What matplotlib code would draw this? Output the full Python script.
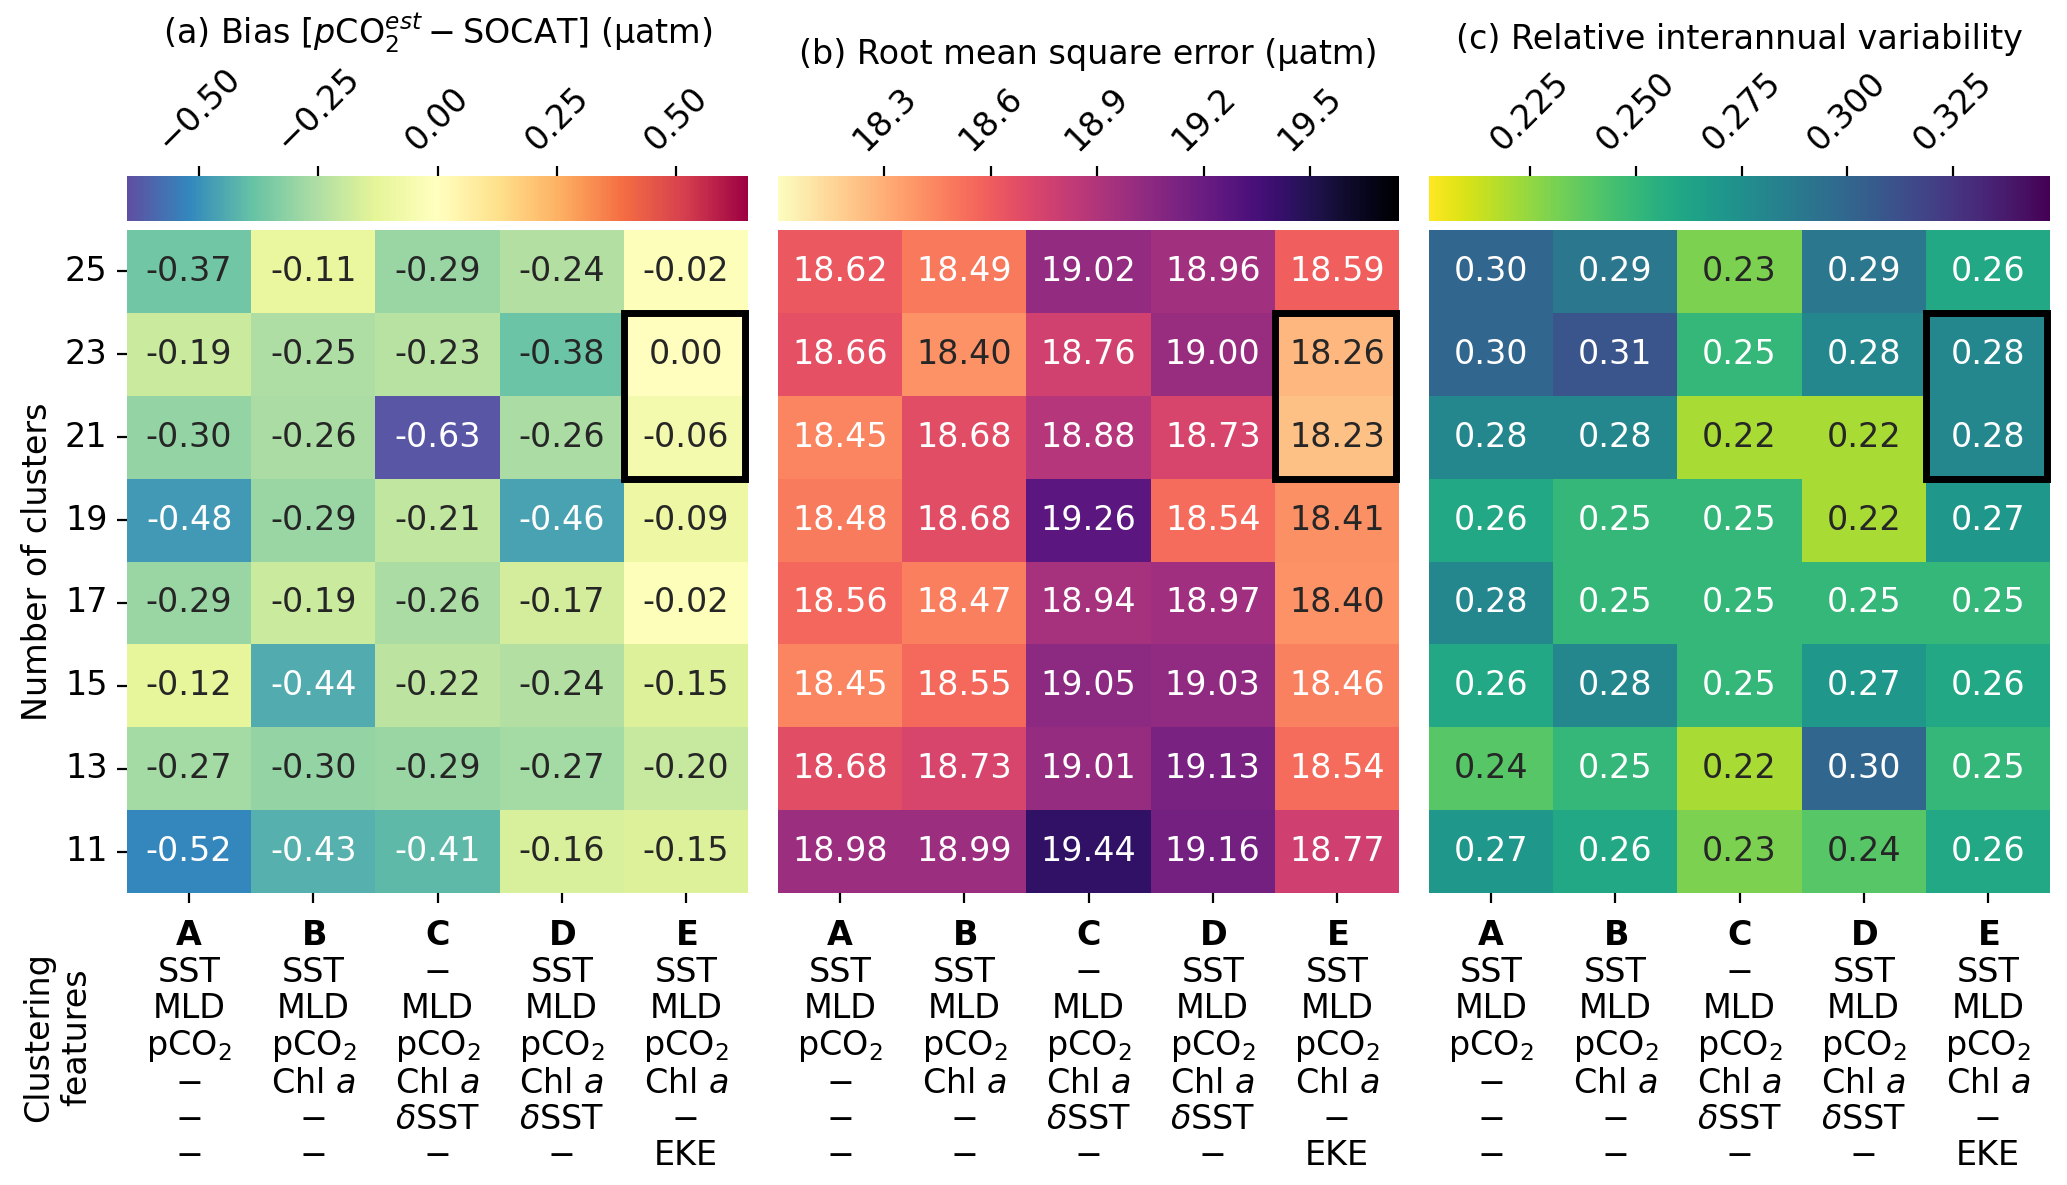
import numpy as np
import matplotlib
matplotlib.use("Agg")
import matplotlib.pyplot as plt
import seaborn as sns
from matplotlib.patches import Rectangle

clusters = [25, 23, 21, 19, 17, 15, 13, 11]
methods = ["A", "B", "C", "D", "E"]
features = [
    ["SST", "MLD", "pCO$_2$", "−", "−", "−"],
    ["SST", "MLD", "pCO$_2$", "Chl $a$", "−", "−"],
    ["−", "MLD", "pCO$_2$", "Chl $a$", "$\\delta$SST", "−"],
    ["SST", "MLD", "pCO$_2$", "Chl $a$", "$\\delta$SST", "−"],
    ["SST", "MLD", "pCO$_2$", "Chl $a$", "−", "EKE"],
]

bias = [
    [-0.37, -0.11, -0.29, -0.24, -0.02],
    [-0.19, -0.25, -0.23, -0.38, 0.00],
    [-0.30, -0.26, -0.63, -0.26, -0.06],
    [-0.48, -0.29, -0.21, -0.46, -0.09],
    [-0.29, -0.19, -0.26, -0.17, -0.02],
    [-0.12, -0.44, -0.22, -0.24, -0.15],
    [-0.27, -0.30, -0.29, -0.27, -0.20],
    [-0.52, -0.43, -0.41, -0.16, -0.15],
]
rmse = [
    [18.62, 18.49, 19.02, 18.96, 18.59],
    [18.66, 18.40, 18.76, 19.00, 18.26],
    [18.45, 18.68, 18.88, 18.73, 18.23],
    [18.48, 18.68, 19.26, 18.54, 18.41],
    [18.56, 18.47, 18.94, 18.97, 18.40],
    [18.45, 18.55, 19.05, 19.03, 18.46],
    [18.68, 18.73, 19.01, 19.13, 18.54],
    [18.98, 18.99, 19.44, 19.16, 18.77],
]
riav = [
    [0.30, 0.29, 0.23, 0.29, 0.26],
    [0.30, 0.31, 0.25, 0.28, 0.28],
    [0.28, 0.28, 0.22, 0.22, 0.28],
    [0.26, 0.25, 0.25, 0.22, 0.27],
    [0.28, 0.25, 0.25, 0.25, 0.25],
    [0.26, 0.28, 0.25, 0.27, 0.26],
    [0.24, 0.25, 0.22, 0.30, 0.25],
    [0.27, 0.26, 0.23, 0.24, 0.26],
]

titles = [
    "(a) Bias [$p\\mathrm{CO}_2^{est} - \\mathrm{SOCAT}$] (µatm)",
    "(b) Root mean square error (µatm)",
    "(c) Relative interannual variability",
]
cbar_ticks = [
    [-0.50, -0.25, 0.00, 0.25, 0.50],
    [18.3, 18.6, 18.9, 19.2, 19.5],
    [0.225, 0.250, 0.275, 0.300, 0.325],
]
cmaps = ["Spectral_r", "magma_r", "viridis_r"]
vlims = [(-0.65, 0.65), (18.0, 19.75), (0.201, 0.348)]
datasets = [bias, rmse, riav]

W, H = 2067, 1185
fig = plt.figure(figsize=(W / 200, H / 200), dpi=200)

lefts = [127, 778, 1429]
pw = 621
heat_top, heat_bot = 230, 893
cb_top, cb_bot = 176, 221

xlabels = ["$\\bf{" + m + "}$\n" + "\n".join(f) for m, f in zip(methods, features)]

for i in range(3):
    ax = fig.add_axes([lefts[i] / W, 1 - heat_bot / H, pw / W, (heat_bot - heat_top) / H])
    cax = fig.add_axes([lefts[i] / W, 1 - cb_bot / H, pw / W, (cb_bot - cb_top) / H])
    data = np.array(datasets[i])
    sns.heatmap(data, ax=ax, cmap=cmaps[i], vmin=vlims[i][0], vmax=vlims[i][1],
                annot=True, fmt=".2f", annot_kws={"size": 12},
                cbar_ax=cax, cbar_kws={"orientation": "horizontal"},
                xticklabels=xlabels,
                yticklabels=clusters if i == 0 else False)
    ax.tick_params(axis="both", labelsize=12)
    ax.tick_params(axis="x", pad=6)
    plt.setp(ax.get_xticklabels(), rotation=0, ha="center", va="top", linespacing=1.12)
    if i == 0:
        plt.setp(ax.get_yticklabels(), rotation=0)
        ax.set_ylabel("Number of clusters", fontsize=12)
    else:
        ax.tick_params(axis="y", left=False)
    ax.add_patch(Rectangle((4, 1), 0.973, 2, fill=False, ec="black", lw=2.5,
                           clip_on=False, zorder=5))
    cax.xaxis.set_ticks_position("top")
    cax.set_xticks(cbar_ticks[i])
    cax.tick_params(labelsize=12)
    plt.setp(cax.get_xticklabels(), rotation=45)
    cax.set_title(titles[i], fontsize=12)

fig.text(58 / W, 1 - 1037 / H, "Clustering\nfeatures", rotation=90,
         ha="center", va="center", fontsize=12)

fig.savefig("out.png", dpi=200)
